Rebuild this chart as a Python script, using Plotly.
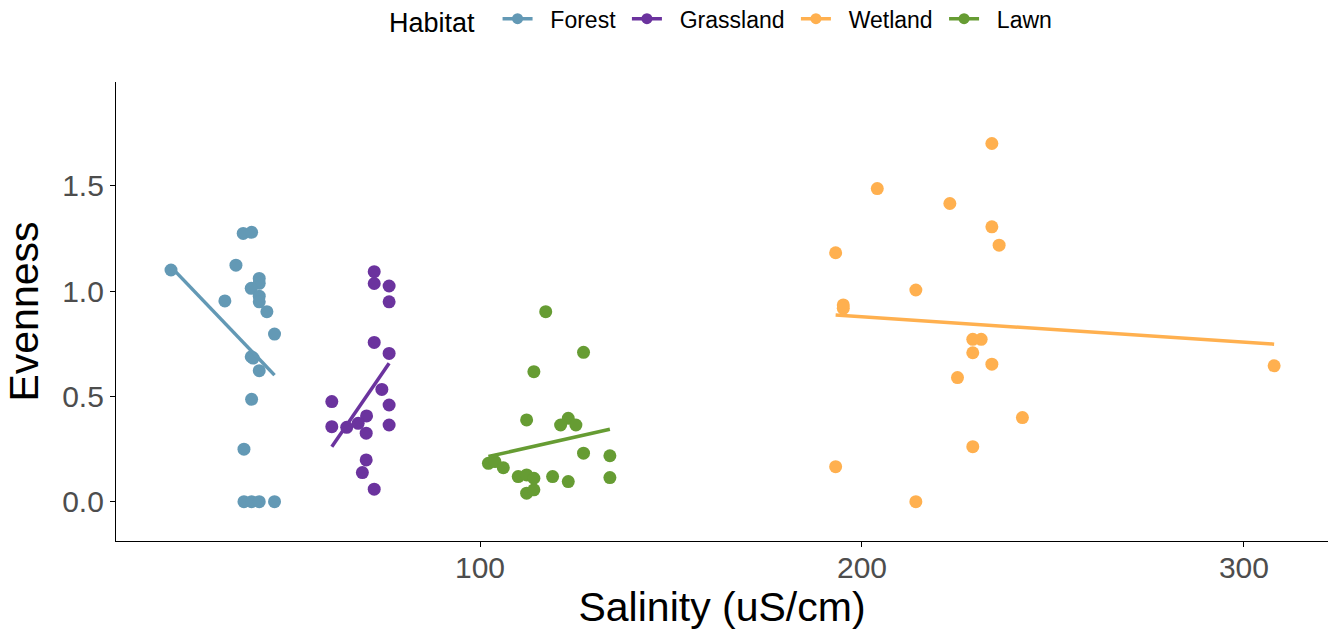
import plotly.graph_objects as go

habitats = ["Forest", "Grassland", "Wetland", "Lawn"]
colors = {"Forest": "#6399B5", "Grassland": "#6B339E", "Wetland": "#FFB04F", "Lawn": "#669C33"}

forest_x = [38.0, 40.2, 36.1, 19.1, 42.2, 42.2, 40.1, 42.2, 42.2, 33.2, 44.2, 46.2, 40.1, 40.6,
            42.2, 40.2, 38.2, 38.2, 40.2, 42.2, 46.2]
forest_y = [1.274, 1.279, 1.123, 1.100, 1.060, 1.037, 1.013, 0.976, 0.949, 0.953, 0.902, 0.796, 0.688, 0.682,
            0.622, 0.486, 0.249, 0.0, 0.0, 0.0, 0.0]

grass_x = [72.3, 72.3, 76.2, 76.2, 72.3, 76.2, 74.3, 61.2, 76.2, 70.3, 61.2, 65.1, 68.1, 70.2, 76.2,
           70.2, 69.2, 72.3]
grass_y = [1.092, 1.036, 1.024, 0.949, 0.756, 0.704, 0.533, 0.475, 0.459, 0.407, 0.356, 0.353, 0.372,
           0.325, 0.364, 0.198, 0.138, 0.059]

wet_x = [234.0, 204.0, 223.0, 234.0, 235.9, 193.1, 214.1, 195.1, 195.1, 229.0, 231.2, 229.0, 234.0,
         225.0, 242.0, 229.0, 193.1, 214.1, 307.9]
wet_y = [1.701, 1.487, 1.416, 1.305, 1.218, 1.182, 1.005, 0.934, 0.918, 0.771, 0.771, 0.707, 0.653,
         0.589, 0.399, 0.261, 0.166, 0.0, 0.645]

lawn_x = [117.2, 127.1, 114.1, 112.2, 123.1, 121.1, 125.1, 127.1, 134.0, 102.2, 103.9, 106.1, 110.0,
          112.2, 114.1, 119.0, 123.1, 134.0, 112.2, 114.1]
lawn_y = [0.902, 0.709, 0.617, 0.388, 0.396, 0.364, 0.364, 0.230, 0.218, 0.182, 0.190, 0.161, 0.119,
          0.127, 0.111, 0.119, 0.095, 0.114, 0.040, 0.056]

# fitted line endpoints
fit_x = {"Forest": [19.1, 46.2], "Grassland": [61.2, 76.2], "Wetland": [193.1, 307.9], "Lawn": [102.2, 134.0]}
fit_y = {"Forest": [1.115, 0.601], "Grassland": [0.261, 0.657], "Wetland": [0.886, 0.748], "Lawn": [0.214, 0.344]}

points = {"Forest": (forest_x, forest_y), "Grassland": (grass_x, grass_y),
          "Wetland": (wet_x, wet_y), "Lawn": (lawn_x, lawn_y)}

x_ticks = [100, 200, 300]
y_ticks = [0.0, 0.5, 1.0, 1.5]
y_tick_text = ["0.0", "0.5", "1.0", "1.5"]

NB = "\u00a0"
fig = go.Figure()
for i, h in enumerate(habitats):
    xs, ys = points[h]
    fig.add_trace(go.Scatter(x=xs, y=ys, mode="markers", name=h, legendgroup=h, showlegend=False,
                             marker=dict(color=colors[h], size=13, line=dict(width=0))))
    fig.add_trace(go.Scatter(x=fit_x[h], y=fit_y[h], mode="lines", name=h, legendgroup=h, showlegend=False,
                             line=dict(color=colors[h], width=3.5)))
    label = NB * 2 + h + (NB if i < len(habitats) - 1 else "")
    fig.add_trace(go.Scatter(x=[None], y=[None], mode="lines+markers", name=label, legendgroup=h, showlegend=True,
                             line=dict(color=colors[h], width=3.5), marker=dict(color=colors[h], size=11)))

fig.update_layout(
    width=1331, height=633,
    paper_bgcolor="white", plot_bgcolor="white",
    margin=dict(l=116, r=3, t=82, b=92),
    font=dict(family="Liberation Sans, Arial, sans-serif", color="black"),
    showlegend=True,
    legend=dict(orientation="h", xref="paper", x=0.5, xanchor="center",
                yref="container", y=0.968, yanchor="middle",
                title=dict(text="Habitat" + NB * 2, font=dict(size=27, color="black")),
                font=dict(size=23, color="black"), itemwidth=30, tracegroupgap=0),
    xaxis=dict(range=[4.7, 322.0], tickvals=x_ticks, ticktext=[str(v) for v in x_ticks],
               showgrid=False, zeroline=False, showline=True, linecolor="black", linewidth=1.3,
               ticks="outside", ticklen=5, tickwidth=1.3, tickcolor="black", automargin=False,
               ticklabelstandoff=-5,
               tickfont=dict(size=30, color="#4D4D4D"),
               title=dict(text="Salinity (uS/cm)", font=dict(size=41, color="black"), standoff=4)),
    yaxis=dict(range=[-0.187, 1.993], tickvals=y_ticks, ticktext=y_tick_text,
               showgrid=False, zeroline=False, showline=True, linecolor="black", linewidth=1.3,
               ticks="outside", ticklen=5, tickwidth=1.3, tickcolor="black", automargin=False,
               tickfont=dict(size=30, color="#4D4D4D"),
               title=dict(text="Evenness", font=dict(size=41, color="black"), standoff=10)),
)

fig.write_html("out.html", config={"displayModeBar": False},
               post_script="document.body.style.margin='0';document.body.style.padding='0';")
